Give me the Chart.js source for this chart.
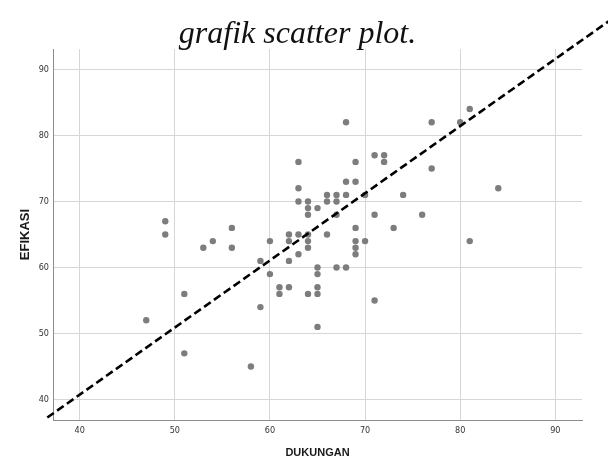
<!DOCTYPE html>
<html>
<head>
<meta charset="utf-8">
<script src="https://cdn.jsdelivr.net/npm/chart.js@4.4.1/dist/chart.umd.min.js"></script>
<style>
  html, body { margin: 0; padding: 0; background: #ffffff; }
  canvas { display: block; }
</style>
</head>
<body>
<canvas id="c" width="608" height="466"></canvas>
<script>
const chartTitle = "grafik scatter plot.";
const xAxisTitle = "DUKUNGAN";
const yAxisTitle = "EFIKASI";
const xTicks = [40, 50, 60, 70, 80, 90];
const yTicks = [40, 50, 60, 70, 80, 90];
const dukungan = [47, 49, 49, 51, 51, 53, 54, 56, 56, 58, 59, 59, 60, 60, 61, 61, 62, 62, 62, 62,
  63, 63, 63, 63, 63, 64, 64, 64, 64, 64, 64, 64, 65, 65, 65, 65, 65, 65, 66, 66, 66,
  67, 67, 67, 67, 68, 68, 68, 68, 69, 69, 69, 69, 69, 69, 70, 70, 71, 71, 71, 72, 72,
  73, 74, 76, 77, 77, 80, 81, 81, 84];
const efikasi = [52, 67, 65, 56, 47, 63, 64, 66, 63, 45, 61, 54, 64, 59, 57, 56, 65, 64, 61, 57,
  76, 72, 70, 65, 62, 70, 69, 68, 65, 64, 63, 56, 69, 60, 59, 57, 56, 51, 71, 70, 65,
  71, 70, 68, 60, 82, 73, 71, 60, 76, 73, 66, 64, 63, 62, 71, 64, 77, 68, 55, 77, 76,
  66, 71, 68, 82, 75, 82, 84, 64, 72];
const refLineX = [36.6, 96];
const refLineY = [37.27, 97.7];

const points = dukungan.map((v, i) => ({ x: v, y: efikasi[i] }));
const refLine = refLineX.map((v, i) => ({ x: v, y: refLineY[i] }));

const titlePlugin = {
  id: 'customTitle',
  afterDraw(chart) {
    const ctx = chart.ctx;
    ctx.save();
    ctx.font = "italic 32px 'Liberation Serif', 'Times New Roman', serif";
    ctx.fillStyle = '#111111';
    ctx.textAlign = 'center';
    ctx.textBaseline = 'alphabetic';
    ctx.fillText(chartTitle, 297.5, 43);
    ctx.restore();
  }
};

const tickFont = { family: "'Liberation Sans Narrow', 'DejaVu Sans Condensed', sans-serif", size: 9 };

new Chart(document.getElementById('c'), {
  type: 'scatter',
  data: {
    datasets: [
      {
        type: 'line',
        data: refLine,
        borderColor: '#000000',
        borderWidth: 2.6,
        borderDash: [8, 4],
        pointRadius: 0,
        fill: false,
        clip: false,
        order: 0
      },
      {
        data: points,
        backgroundColor: '#7d7d7d',
        borderWidth: 0,
        pointRadius: 3.2,
        pointHoverRadius: 3.2,
        order: 1
      }
    ]
  },
  options: {
    responsive: false,
    animation: false,
    layout: { padding: { top: 49, right: 26, left: 0, bottom: 0 } },
    plugins: {
      legend: { display: false },
      tooltip: { enabled: false },
      title: { display: false }
    },
    scales: {
      x: {
        type: 'linear',
        min: 37.2,
        max: 92.8,
        afterBuildTicks(scale) { scale.ticks = xTicks.map(v => ({ value: v })); },
        afterFit(scale) { scale.height = 46; },
        grid: { color: '#d6d6d6', lineWidth: 1, drawTicks: false },
        border: { display: true, color: '#8c8c8c', width: 1 },
        ticks: { font: tickFont, color: '#333333', padding: 5, maxRotation: 0 },
        title: {
          display: true,
          text: xAxisTitle,
          color: '#1a1a1a',
          font: { family: "'Liberation Sans', Arial, sans-serif", size: 11, weight: 'bold' },
          padding: { top: 0, bottom: 6 }
        }
      },
      y: {
        type: 'linear',
        min: 36.9,
        max: 93.1,
        afterBuildTicks(scale) { scale.ticks = yTicks.map(v => ({ value: v })); },
        afterFit(scale) { scale.width = 53; },
        grid: { color: '#d6d6d6', lineWidth: 1, drawTicks: false },
        border: { display: true, color: '#8c8c8c', width: 1 },
        ticks: { font: tickFont, color: '#333333', padding: 4 },
        title: {
          display: true,
          text: yAxisTitle,
          color: '#1a1a1a',
          font: { family: "'Liberation Sans', Arial, sans-serif", size: 13, weight: 'bold' },
          padding: { top: 18, bottom: 0 }
        }
      }
    }
  },
  plugins: [titlePlugin]
});
</script>
</body>
</html>
